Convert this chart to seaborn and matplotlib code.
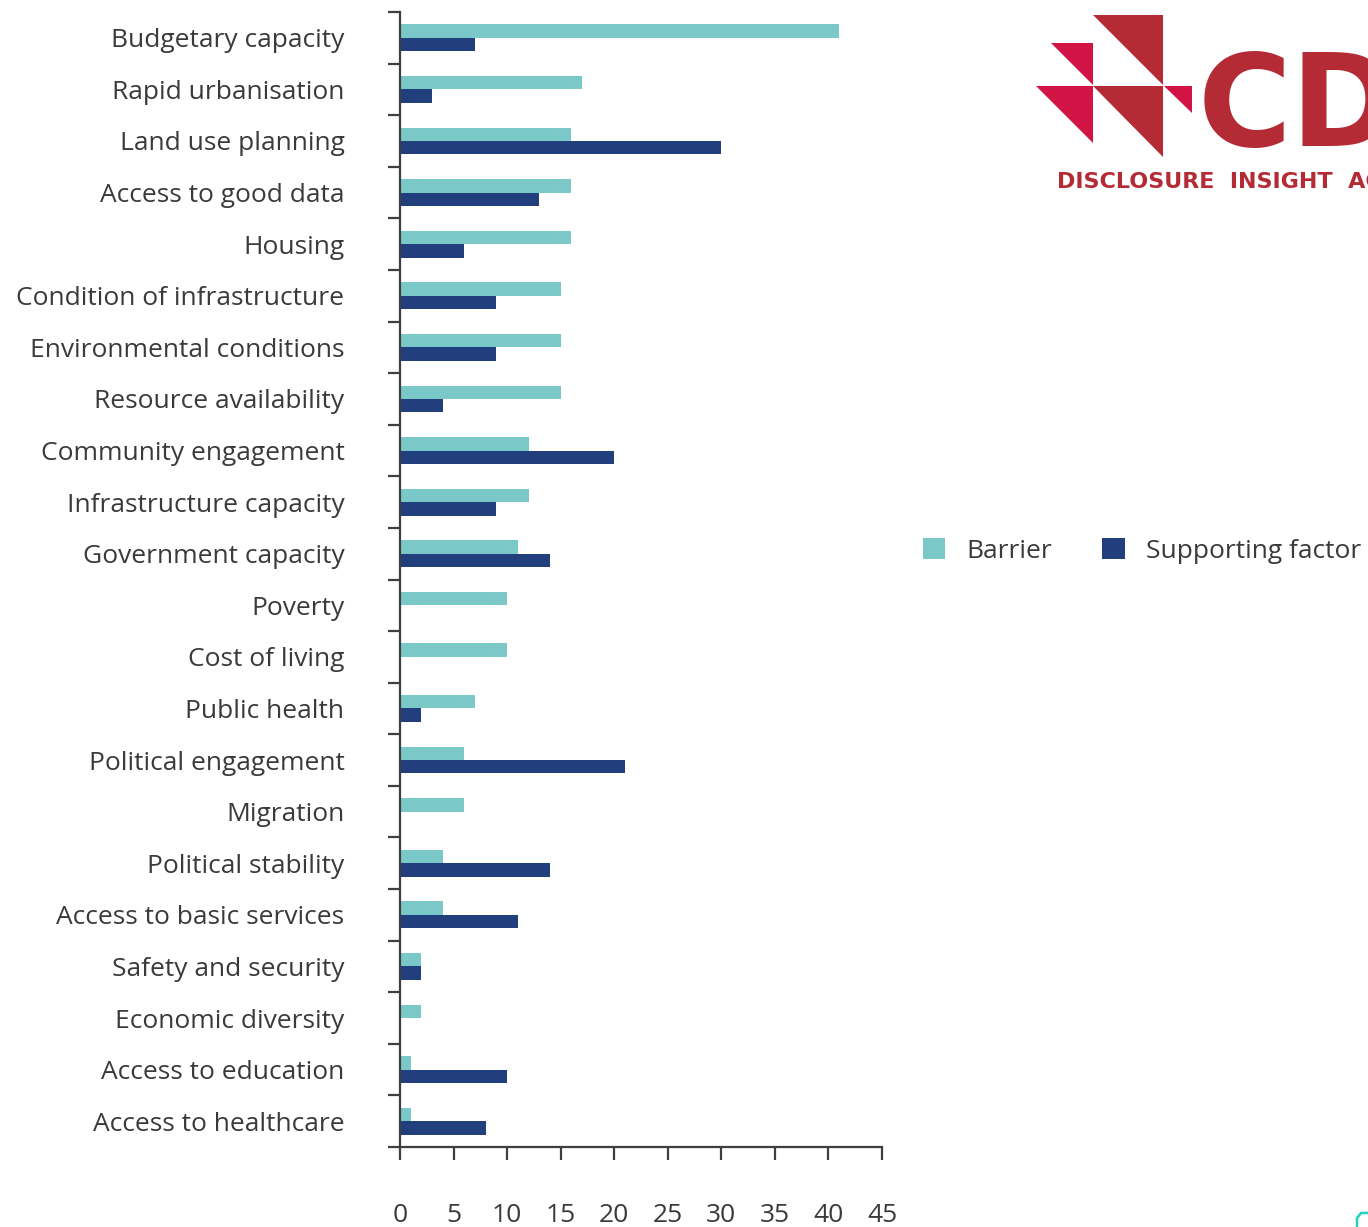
import matplotlib
matplotlib.use("Agg")
import matplotlib.pyplot as plt
from matplotlib.patches import Polygon, Patch
from matplotlib.lines import Line2D
from matplotlib.ticker import FixedLocator
import numpy as np
import pandas as pd
import seaborn as sns

categories = [
    "Budgetary capacity", "Rapid urbanisation", "Land use planning",
    "Access to good data", "Housing", "Condition of infrastructure",
    "Environmental conditions", "Resource availability", "Community engagement",
    "Infrastructure capacity", "Government capacity", "Poverty", "Cost of living",
    "Public health", "Political engagement", "Migration", "Political stability",
    "Access to basic services", "Safety and security", "Economic diversity",
    "Access to education", "Access to healthcare",
]
barrier = [41, 17, 16, 16, 16, 15, 15, 15, 12, 12, 11, 10, 10, 7, 6, 6, 4, 4, 2, 2, 1, 1]
supporting = [7, 3, 30, 13, 6, 9, 9, 4, 20, 9, 14, 0, 0, 2, 21, 0, 14, 11, 2, 0, 10, 8]
series_names = ["Barrier", "Supporting factor"]
x_ticks = [0, 5, 10, 15, 20, 25, 30, 35, 40, 45]

df = pd.DataFrame({
    "category": categories * 2,
    "value": barrier + supporting,
    "series": [series_names[0]] * len(categories) + [series_names[1]] * len(categories),
})

sns.set_theme(style="white")
plt.rcParams["font.family"] = ["Open Sans", "DejaVu Sans"]
text_color = "#3a3a3a"
axis_color = "#3f3f3f"
palette = {"Barrier": "#7bc8c9", "Supporting factor": "#213f7c"}

fig = plt.figure(figsize=(13.68, 12.27), dpi=100)
ax = fig.add_axes([400 / 1368, 1 - 1147 / 1227, 482 / 1368, 1135 / 1227])

sns.barplot(data=df, y="category", x="value", hue="series", order=categories,
            hue_order=series_names, palette=palette, orient="h", width=0.52,
            saturation=1, linewidth=0, ax=ax, legend=False)

ax.set_xlim(0, 45)
ax.set_ylim(len(categories) - 0.5, -0.5)
ax.set_xticks(x_ticks)
ax.set_xlabel("")
ax.set_ylabel("")
ax.yaxis.set_minor_locator(FixedLocator(np.arange(-0.5, len(categories), 1.0)))

for side in ["top", "right"]:
    ax.spines[side].set_visible(False)
for side in ["left", "bottom"]:
    ax.spines[side].set_color(axis_color)
    ax.spines[side].set_linewidth(1.6)

ax.tick_params(axis="y", which="major", length=0, pad=40, labelsize=19, labelcolor=text_color)
ax.tick_params(axis="y", which="minor", left=True, length=9, width=1.6, color=axis_color)
ax.tick_params(axis="x", which="major", bottom=True, length=9, width=1.6, color=axis_color,
               pad=31, labelsize=19, labelcolor=text_color)

legend_handles = [Patch(facecolor=palette[s], edgecolor="none") for s in series_names]
fig.legend(legend_handles, series_names, loc="center left",
           bbox_to_anchor=(899 / 1368, 1 - 551 / 1227), ncol=2, frameon=False,
           fontsize=19, labelcolor=text_color, handlelength=0.85, handleheight=0.85,
           handletextpad=0.8, columnspacing=1.9)

# CDP logo mark
dark_red = "#b52b35"
pink_red = "#d11445"
H = 1227.0
W = 1368.0

def tri(points, color):
    pts = [(x / W, 1 - y / H) for x, y in points]
    fig.patches.append(Polygon(pts, closed=True, facecolor=color, edgecolor="none",
                               transform=fig.transFigure, figure=fig))

tri([(1093, 15), (1163, 15), (1163, 85)], dark_red)
tri([(1093, 86), (1163, 86), (1163, 157)], dark_red)
tri([(1051, 43), (1093, 43), (1093, 85)], pink_red)
tri([(1036, 86), (1093, 86), (1093, 143)], pink_red)
tri([(1164, 86), (1192, 86), (1192, 113)], pink_red)

fig.text(1198 / W, 1 - 111 / H, "CDP", color=dark_red, fontsize=92, fontweight="bold",
         family=["DejaVu Sans"], va="center", ha="left")
fig.text(1057 / W, 1 - 182 / H, "DISCLOSURE  INSIGHT  ACTION", color=dark_red, fontsize=16,
         fontweight="bold", family=["DejaVu Sans"], va="center", ha="left")

# corner of a teal icon at the bottom edge
fig.lines.append(Line2D([1357 / W, 1357 / W, 1361 / W, 1368 / W],
                        [1 - 1227 / H, 1 - 1218 / H, 1 - 1213 / H, 1 - 1213 / H],
                        color="#22d3c0", linewidth=1.8, transform=fig.transFigure, figure=fig))

fig.savefig("out.png", dpi=100)
